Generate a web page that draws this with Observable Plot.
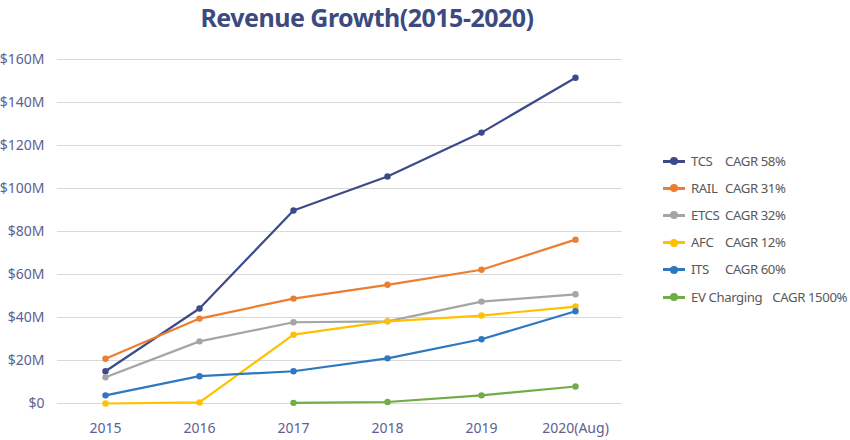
<!DOCTYPE html>
<html>
<head>
<meta charset="utf-8">
<script src="https://cdn.jsdelivr.net/npm/d3@7"></script>
<script src="https://cdn.jsdelivr.net/npm/@observablehq/plot@0.6"></script>
<style>
  body { margin: 0; background: #fff; font-family: "Noto Sans", sans-serif; }
  #wrap { position: relative; width: 850px; height: 440px; overflow: hidden; }
  #title { position: absolute; left: 0; top: 0; width: 734px; text-align: center;
           font: bold 25px "Noto Sans", sans-serif; color: #3d4a80; line-height: normal; letter-spacing: -0.5px; z-index: 2; }
  #chart { position: absolute; left: 0; top: 36px; }
  #legend { position: absolute; left: 663px; top: 147px; font: 13.2px "Noto Sans", sans-serif; color: #595959; letter-spacing: -0.4px; }
  .row { display: flex; align-items: center; height: 27.2px; white-space: nowrap; }
  .sw { position: relative; width: 22px; height: 20px; margin-right: 6px; }
  .sw .ln { position: absolute; left: 0; top: 9px; width: 22px; height: 3px; }
  .sw .dt { position: absolute; left: 7px; top: 6.5px; width: 8px; height: 8px; border-radius: 50%; }
  .nm { min-width: 34px; margin-right: 0px; }
  .nm.long { margin-right: 10px; }
</style>
</head>
<body>
<div id="wrap">
  <div id="chart"></div>
  <div id="title">Revenue Growth(2015-2020)</div>
  <div id="legend"></div>
</div>
<script>
const years = ["2015", "2016", "2017", "2018", "2019", "2020(Aug)"];
const seriesNames = ["TCS", "RAIL", "ETCS", "AFC", "ITS", "EV Charging"];
const cagrLabels = ["CAGR 58%", "CAGR 31%", "CAGR 32%", "CAGR 12%", "CAGR 60%", "CAGR 1500%"];
const colors = ["#3c4a8c", "#ed7d31", "#a5a5a5", "#ffc000", "#2e78c0", "#70ad47"];

const tcs  = [15.0, 44.2, 89.8, 105.6, 126.0, 151.5];
const rail = [20.8, 39.5, 48.8, 55.2, 62.2, 76.2];
const etcs = [12.2, 28.9, 37.8, 38.2, 47.4, 50.8];
const afc  = [0.0, 0.5, 32.0, 38.2, 40.9, 45.1];
const its  = [3.8, 12.7, 15.0, 21.0, 29.9, 42.9];
const ev   = [null, null, 0.3, 0.7, 3.8, 7.9];

const yTicks = [0, 20, 40, 60, 80, 100, 120, 140, 160];

const allSeries = [tcs, rail, etcs, afc, its, ev];
const rows = [];
allSeries.forEach((vals, si) => {
  vals.forEach((v, i) => {
    if (v !== null) rows.push({series: seriesNames[si], year: years[i], value: v});
  });
});

const fmt = d => d === 0 ? "$0" : `$${d}M`;

const plot = Plot.plot({
  width: 850,
  height: 402,
  marginTop: 23,
  marginBottom: 35,
  marginLeft: 57,
  marginRight: 228,
  style: { fontFamily: "Noto Sans, sans-serif", fontSize: "14px", color: "#5b6192", background: "white" },
  x: { type: "point", domain: years, padding: 0.5, label: null },
  y: { domain: [0, 160], label: null },
  color: { domain: seriesNames, range: colors },
  marks: [
    Plot.ruleY(yTicks, { stroke: "#d9d9d9", strokeWidth: 1 }),
    Plot.axisY({ ticks: yTicks, tickFormat: fmt, tickSize: 0, tickPadding: 13, label: null, fill: "#5b6192", fontSize: 14 }),
    Plot.axisX({ tickSize: 0, tickPadding: 20, label: null, fill: "#5b6192", fontSize: 14 }),
    Plot.line(rows, { x: "year", y: "value", z: "series", stroke: "series", strokeWidth: 2.2 }),
    Plot.dot(rows, { x: "year", y: "value", fill: "series", r: 3.2 })
  ]
});
document.getElementById("chart").appendChild(plot);

const legend = document.getElementById("legend");
seriesNames.forEach((name, i) => {
  const row = document.createElement("div");
  row.className = "row";
  row.innerHTML = `<div class="sw"><div class="ln" style="background:${colors[i]}"></div><div class="dt" style="background:${colors[i]}"></div></div>` +
    `<span class="nm${name.length > 5 ? " long" : ""}">${name}</span><span>${cagrLabels[i]}</span>`;
  legend.appendChild(row);
});
</script>
</body>
</html>
